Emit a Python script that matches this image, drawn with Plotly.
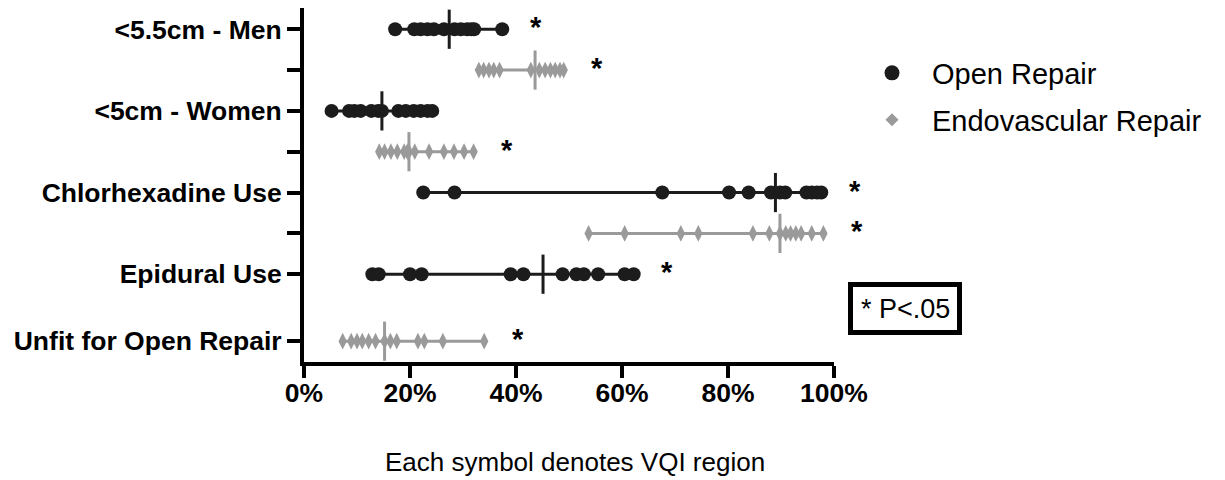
import numpy as np
import plotly.graph_objects as go

# ---- data (percent of patients, each value = one VQI region) ----
row_labels = ["<5.5cm - Men", "", "<5cm - Women", "", "Chlorhexadine Use", "", "Epidural Use", "Unfit for Open Repair"]
row_pos = [0, 1, 2, 3, 4, 5, 6, 7.64]

men_open = [17.2, 20.8, 22.0, 23.3, 24.5, 26.4, 28.4, 29.6, 30.8, 31.6, 32.1, 37.4]
men_endo = [33.0, 33.9, 34.9, 35.8, 36.9, 42.8, 44.4, 45.5, 46.5, 47.4, 48.3, 49.0]
women_open = [5.2, 8.5, 9.5, 10.7, 12.7, 14.0, 14.7, 17.8, 19.2, 20.7, 22.0, 23.3, 24.2]
women_endo = [14.2, 15.2, 16.4, 17.6, 18.9, 19.5, 19.8, 20.9, 23.6, 26.4, 28.3, 30.2, 32.0]
chlor_open = [22.5, 28.4, 67.6, 80.2, 83.9, 88.1, 89.8, 90.8, 94.8, 95.8, 96.8, 97.6]
chlor_endo = [53.7, 60.5, 71.1, 74.4, 84.7, 87.8, 89.8, 90.9, 91.8, 92.8, 93.8, 95.8, 98.0]
epidural_open = [12.9, 14.1, 20.0, 22.2, 39.0, 41.4, 48.8, 51.4, 52.8, 55.5, 60.5, 62.2]
unfit_endo = [7.3, 8.9, 10.0, 11.0, 12.2, 13.5, 15.2, 16.3, 17.5, 21.5, 22.7, 26.2, 34.0]

# (values, row index, group, significant)
series = [
    (men_open, 0, "open", True),
    (men_endo, 1, "endo", True),
    (women_open, 2, "open", False),
    (women_endo, 3, "endo", True),
    (chlor_open, 4, "open", True),
    (chlor_endo, 5, "endo", True),
    (epidural_open, 6, "open", True),
    (unfit_endo, 7, "endo", True),
]

x_ticks = [0, 20, 40, 60, 80, 100]
x_ticklabels = ["0%", "20%", "40%", "60%", "80%", "100%"]
X_MIN, X_MAX = 0, 100

OPEN_C = "#1c1c1c"
ENDO_C = "#9a9a9a"

fig = go.Figure()
annotations = []
for vals, ri, grp, sig in series:
    y = row_pos[ri]
    col = OPEN_C if grp == "open" else ENDO_C
    xs = sorted(vals)
    # range line
    fig.add_trace(go.Scatter(x=[xs[0], xs[-1]], y=[y, y], mode="lines",
                             line=dict(color=col, width=3), showlegend=False,
                             hoverinfo="skip", cliponaxis=False))
    # points
    if grp == "open":
        mk = dict(symbol="circle", size=14, color=col)
    else:
        mk = dict(symbol="diamond-tall", size=12, color=col)
    fig.add_trace(go.Scatter(x=xs, y=[y] * len(xs), mode="markers", marker=mk,
                             showlegend=False, cliponaxis=False))
    # median tick
    fig.add_trace(go.Scatter(x=[float(np.median(xs))], y=[y], mode="markers",
                             marker=dict(symbol="line-ns", size=28,
                                         line=dict(color=col, width=3)),
                             showlegend=False, cliponaxis=False))
    if sig:
        star_x = (xs[-1] + 6.3 - X_MIN) / (X_MAX - X_MIN)
        annotations.append(dict(x=star_x, y=y, xref="paper", yref="y", text="<b>*</b>",
                                showarrow=False, xanchor="center", yanchor="middle", yshift=2,
                                font=dict(family="Liberation Sans", size=29, color="black")))

# legend entries
fig.add_trace(go.Scatter(x=[None], y=[None], mode="markers", name="Open Repair",
                         marker=dict(symbol="circle", size=15, color=OPEN_C), legend="legend"))
fig.add_trace(go.Scatter(x=[None], y=[None], mode="markers", name="Endovascular Repair",
                         marker=dict(symbol="diamond", size=10, color=ENDO_C), legend="legend2"))

L, B, T = 304, 118, 8
PW = 1225 - L - 391
PH = 480 - B - T
def px_x(px):
    return (px - L) / PW
def px_y(py):
    return (480 - B - py) / PH

annotations.append(dict(x=px_x(575), y=px_y(462), xref="paper", yref="paper",
                        text="Each symbol denotes VQI region", showarrow=False,
                        xanchor="center", yanchor="middle",
                        font=dict(family="Liberation Sans", size=26, color="black")))
annotations.append(dict(x=px_x(905), y=px_y(309), xref="paper", yref="paper",
                        text="* P<.05", showarrow=False, xanchor="center", yanchor="middle",
                        font=dict(family="Liberation Sans", size=27, color="black")))

shapes = [dict(type="rect", xref="paper", yref="paper",
               x0=px_x(850.5), x1=px_x(959.5), y0=px_y(284.5), y1=px_y(332.5),
               line=dict(color="black", width=5), fillcolor="rgba(0,0,0,0)")]

leg_font = dict(family="Liberation Sans", size=29, color="black")
fig.update_layout(
    width=1225, height=480,
    margin=dict(l=L, r=391, t=T, b=B),
    paper_bgcolor="white", plot_bgcolor="white",
    annotations=annotations, shapes=shapes,
    legend=dict(x=px_x(852), y=px_y(73), xanchor="left", yanchor="middle", itemwidth=70,
                font=leg_font, bgcolor="rgba(0,0,0,0)", borderwidth=0),
    legend2=dict(x=px_x(852), y=px_y(120), xanchor="left", yanchor="middle", itemwidth=70,
                 font=leg_font, bgcolor="rgba(0,0,0,0)", borderwidth=0),
    xaxis=dict(range=[X_MIN, X_MAX], tickvals=x_ticks, ticktext=x_ticklabels,
               showgrid=False, zeroline=False, showline=True, linecolor="black",
               linewidth=4, ticks="outside", ticklen=12, tickwidth=4, tickcolor="black",
               ticklabelstandoff=-8,
               tickfont=dict(family="Liberation Sans", size=26.5, color="black", weight="bold")),
    yaxis=dict(range=[8.15, -0.52], tickvals=row_pos, ticktext=row_labels,
               showgrid=False, zeroline=False, showline=True, linecolor="black",
               linewidth=4, ticks="outside", ticklen=13, tickwidth=4, tickcolor="black",
               ticklabelstandoff=0,
               tickfont=dict(family="Liberation Sans", size=26.5, color="black", weight="bold")),
)

fig.write_html("out.html")
